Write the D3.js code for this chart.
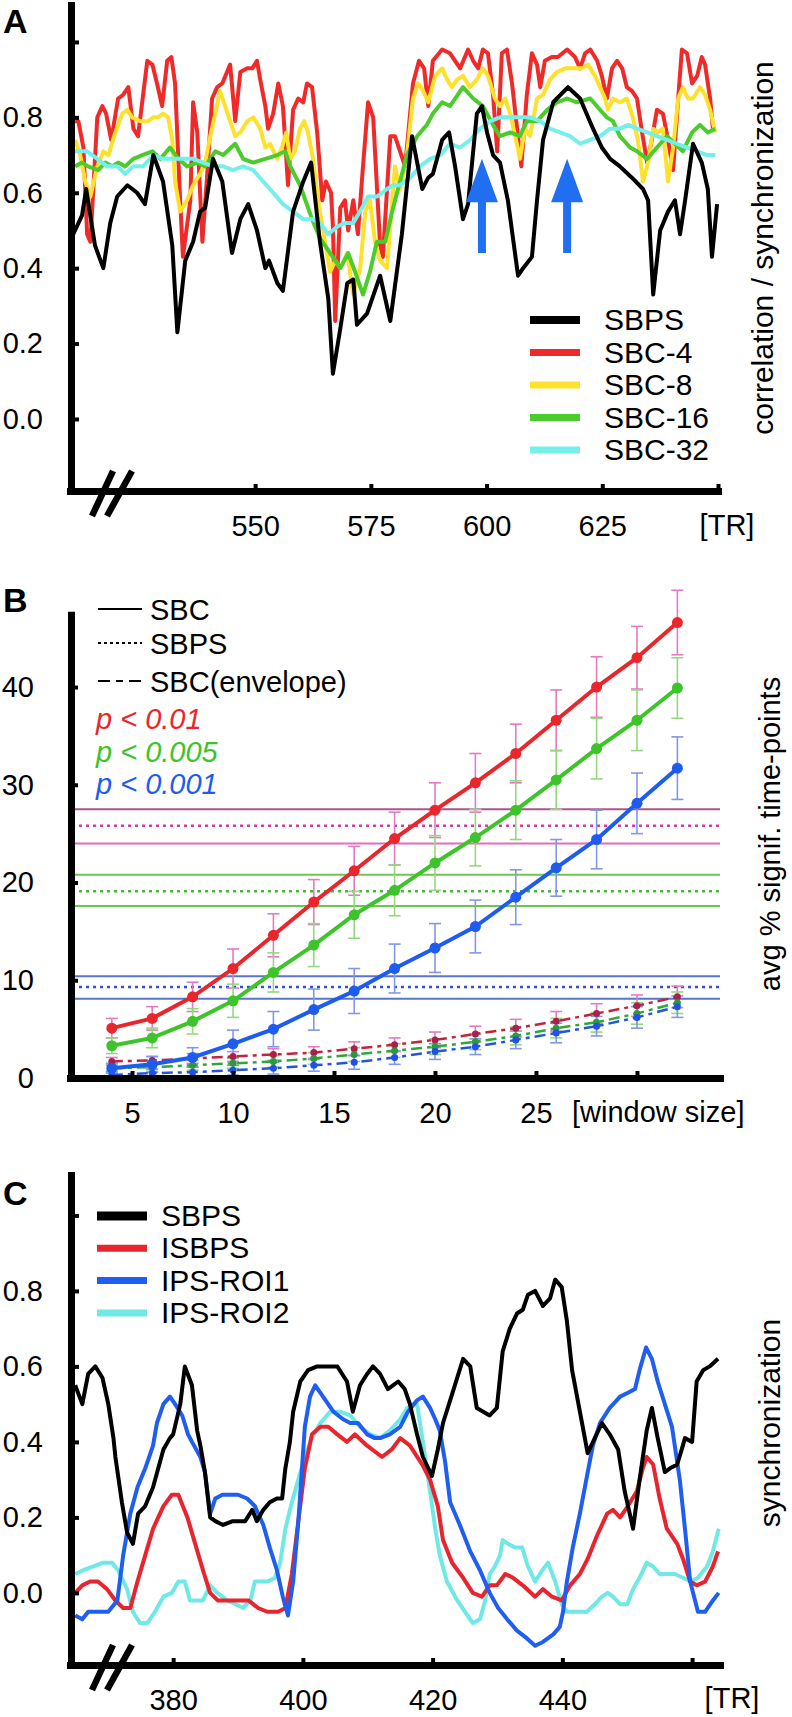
<!DOCTYPE html>
<html><head><meta charset="utf-8">
<script src="https://cdn.jsdelivr.net/npm/d3@7"></script>
<style>body{margin:0;background:#fff;} svg{display:block;}</style>
</head><body><svg id="c" width="792" height="1717"></svg>
<script>
// ================= DATA =================
// Panel A: [TR, value]
const aSBPS = [[510.7,0.49],[512.6,0.54],[513.5,0.61],[515.4,0.46],[517.2,0.40],[518.7,0.52],[520.2,0.59],[522.4,0.62],[524.5,0.60],[526.2,0.57],[528.0,0.70],[530.1,0.63],[532.1,0.46],[533.2,0.23],[534.9,0.42],[536.6,0.47],[538.1,0.55],[539.2,0.56],[540.9,0.69],[542.9,0.63],[545.0,0.44],[546.8,0.53],[548.5,0.57],[550.4,0.50],[552.2,0.40],[553.0,0.42],[554.8,0.36],[556.0,0.34],[558.2,0.55],[560.4,0.63],[562.1,0.68],[564.0,0.47],[565.8,0.32],[566.8,0.12],[568.4,0.24],[569.9,0.36],[571.2,0.37],[572.0,0.25],[574.2,0.28],[577.0,0.38],[579.2,0.26],[581.7,0.49],[583.9,0.75],[586.1,0.61],[587.4,0.64],[588.4,0.65],[590.4,0.74],[591.9,0.76],[593.2,0.67],[594.9,0.53],[596.0,0.57],[597.9,0.81],[599.0,0.83],[600.1,0.76],[601.4,0.70],[602.9,0.68],[604.6,0.58],[606.8,0.38],[607.9,0.40],[609.8,0.43],[610.9,0.58],[612.2,0.74],[614.4,0.84],[617.6,0.88],[620.2,0.85],[623.0,0.77],[624.9,0.72],[626.7,0.69],[628.8,0.67],[631.4,0.64],[633.8,0.61],[634.9,0.58],[636.0,0.33],[637.5,0.50],[639.2,0.55],[640.7,0.58],[641.8,0.49],[642.9,0.58],[644.6,0.73],[646.5,0.68],[647.8,0.61],[648.7,0.43],[649.8,0.57]];
const aSBC4 = [[511.1,0.79],[511.8,0.79],[512.9,0.72],[513.7,0.49],[514.4,0.47],[515.9,0.80],[517.0,0.83],[517.8,0.81],[518.9,0.74],[520.4,0.85],[521.5,0.86],[522.6,0.88],[523.7,0.77],[524.7,0.75],[526.7,0.95],[527.8,0.94],[528.8,0.89],[529.9,0.83],[531.0,0.95],[531.9,0.96],[532.7,0.89],[533.8,0.58],[534.4,0.43],[536.0,0.58],[536.6,0.84],[537.5,0.76],[538.6,0.47],[539.6,0.64],[540.7,0.85],[541.8,0.88],[542.9,0.89],[544.6,0.94],[545.7,0.79],[546.8,0.92],[548.3,0.93],[549.4,0.93],[550.4,0.95],[551.1,0.90],[552.2,0.83],[552.8,0.77],[553.9,0.81],[555.0,0.89],[556.0,0.83],[557.1,0.62],[558.2,0.82],[559.3,0.85],[560.4,0.84],[561.2,0.89],[562.3,0.88],[563.4,0.76],[564.5,0.58],[565.3,0.63],[566.4,0.60],[566.8,0.51],[567.3,0.26],[568.4,0.56],[569.4,0.58],[570.1,0.50],[571.2,0.58],[572.2,0.49],[573.3,0.67],[574.4,0.84],[575.5,0.80],[577.0,0.46],[577.6,0.43],[579.2,0.75],[580.2,0.75],[582.4,0.67],[584.1,0.89],[585.4,0.95],[586.5,0.93],[587.4,0.83],[588.4,0.95],[590.4,0.98],[592.1,0.97],[594.3,0.93],[596.0,0.98],[597.1,0.95],[598.2,0.93],[599.2,0.98],[600.3,0.97],[601.4,0.86],[602.3,0.71],[603.3,0.97],[604.4,0.98],[605.5,0.89],[606.6,0.77],[607.5,0.67],[608.7,0.86],[609.8,0.97],[610.9,0.94],[611.6,0.88],[612.6,0.95],[614.1,0.96],[615.4,0.96],[617.4,0.98],[619.1,0.96],[620.2,0.93],[621.3,0.97],[622.4,0.98],[623.9,0.95],[624.9,0.91],[626.0,0.85],[627.1,0.93],[628.2,0.95],[629.3,0.93],[630.3,0.88],[631.4,0.87],[632.5,0.85],[633.6,0.76],[634.7,0.68],[635.7,0.74],[636.8,0.82],[638.1,0.81],[639.2,0.74],[640.3,0.66],[641.4,0.85],[642.2,0.98],[643.3,0.97],[644.4,0.89],[645.5,0.91],[646.5,0.96],[647.2,0.94],[648.3,0.85],[648.9,0.77]];
const aSBC8 = [[511.1,0.74],[512.2,0.70],[513.3,0.63],[514.4,0.59],[515.9,0.67],[517.2,0.71],[518.3,0.70],[519.8,0.76],[521.3,0.81],[522.4,0.82],[523.4,0.80],[525.2,0.79],[526.9,0.79],[528.0,0.80],[529.0,0.80],[530.1,0.81],[531.2,0.80],[532.1,0.74],[532.7,0.63],[533.8,0.55],[535.3,0.58],[536.6,0.62],[538.1,0.65],[539.2,0.68],[540.3,0.75],[541.4,0.81],[542.4,0.87],[543.5,0.83],[544.6,0.79],[545.7,0.75],[546.8,0.76],[548.3,0.79],[549.6,0.80],[551.1,0.77],[552.2,0.72],[553.2,0.73],[554.8,0.69],[555.8,0.72],[556.7,0.76],[557.6,0.69],[558.6,0.71],[559.7,0.77],[560.6,0.79],[561.4,0.76],[562.5,0.69],[563.6,0.58],[565.1,0.47],[566.2,0.39],[567.3,0.42],[568.4,0.40],[569.9,0.44],[571.2,0.33],[572.7,0.40],[573.8,0.55],[574.8,0.58],[575.9,0.47],[577.0,0.42],[578.5,0.40],[580.2,0.67],[581.3,0.61],[582.8,0.70],[584.1,0.85],[585.2,0.89],[586.3,0.87],[587.4,0.84],[588.9,0.91],[590.4,0.93],[591.5,0.90],[592.5,0.88],[593.6,0.90],[594.9,0.91],[596.4,0.88],[597.9,0.90],[599.2,0.93],[600.3,0.91],[601.8,0.85],[602.9,0.83],[604.0,0.85],[605.1,0.81],[606.2,0.75],[607.2,0.69],[608.3,0.77],[609.4,0.75],[610.9,0.85],[612.2,0.86],[613.7,0.90],[615.2,0.92],[617.0,0.93],[618.7,0.93],[620.6,0.93],[621.9,0.94],[623.4,0.91],[624.5,0.88],[625.6,0.85],[626.2,0.82],[627.3,0.85],[628.8,0.84],[630.3,0.85],[631.6,0.80],[632.7,0.74],[633.8,0.63],[634.9,0.68],[636.0,0.77],[637.0,0.76],[638.1,0.77],[639.2,0.63],[640.3,0.72],[641.4,0.85],[642.4,0.88],[643.5,0.85],[644.6,0.85],[646.1,0.88],[647.2,0.86],[648.3,0.82],[649.4,0.76]];
const aSBC16 = [[511.1,0.67],[512.6,0.68],[513.9,0.67],[516.1,0.66],[517.6,0.68],[519.1,0.67],[520.4,0.68],[521.9,0.67],[523.7,0.69],[525.6,0.70],[527.8,0.71],[529.5,0.69],[531.6,0.72],[533.4,0.69],[535.3,0.67],[537.5,0.68],[539.2,0.67],[541.4,0.71],[543.1,0.70],[545.7,0.73],[547.4,0.69],[549.6,0.68],[552.2,0.69],[554.8,0.70],[556.5,0.71],[557.6,0.67],[559.7,0.62],[562.3,0.53],[564.0,0.48],[566.2,0.44],[568.4,0.40],[570.1,0.44],[571.6,0.39],[573.3,0.33],[574.8,0.39],[576.3,0.47],[578.1,0.47],[579.6,0.55],[581.3,0.63],[582.8,0.70],[585.0,0.75],[587.1,0.78],[588.4,0.81],[590.4,0.84],[592.1,0.83],[594.9,0.88],[597.1,0.85],[599.2,0.83],[601.4,0.78],[602.9,0.75],[605.1,0.76],[607.2,0.75],[608.7,0.79],[610.9,0.79],[613.1,0.82],[615.2,0.84],[617.4,0.85],[619.5,0.84],[622.4,0.85],[624.5,0.82],[626.0,0.80],[627.3,0.79],[628.8,0.75],[631.0,0.72],[632.5,0.71],[634.7,0.69],[636.8,0.72],[639.0,0.75],[640.7,0.73],[642.4,0.71],[644.4,0.76],[646.1,0.78],[647.8,0.76],[649.4,0.77]];
const aSBC32 = [[511.1,0.71],[513.7,0.71],[515.9,0.69],[518.0,0.67],[520.2,0.67],[521.9,0.65],[523.7,0.67],[525.8,0.67],[528.0,0.70],[530.1,0.69],[532.3,0.69],[534.4,0.69],[536.6,0.69],[538.8,0.68],[540.9,0.67],[543.1,0.67],[545.2,0.66],[547.4,0.67],[549.6,0.66],[551.7,0.63],[553.9,0.60],[556.0,0.57],[558.2,0.55],[560.4,0.53],[562.3,0.53],[564.0,0.52],[565.8,0.49],[567.7,0.51],[569.4,0.52],[571.2,0.52],[573.1,0.56],[574.4,0.59],[576.3,0.59],[578.5,0.61],[579.8,0.62],[581.3,0.62],[583.5,0.64],[585.6,0.67],[587.8,0.69],[590.0,0.70],[592.1,0.73],[594.3,0.72],[596.4,0.74],[598.6,0.77],[600.8,0.79],[602.9,0.80],[605.1,0.80],[607.2,0.80],[609.4,0.80],[611.6,0.79],[613.7,0.77],[615.9,0.76],[618.0,0.75],[620.2,0.73],[622.4,0.74],[624.5,0.75],[626.7,0.77],[628.8,0.77],[630.6,0.78],[632.5,0.77],[634.7,0.76],[636.8,0.75],[639.0,0.74],[641.1,0.73],[643.3,0.72],[645.5,0.71],[647.6,0.70],[649.4,0.70]];
const aYTicks = [0, 0.2, 0.4, 0.6, 0.8, 1.0];
const aYLabels = ['0.0','0.2','0.4','0.6','0.8',''];
const aXTicks = [550, 575, 600, 625, 650];
const aXLabels = ['550','575','600','625',''];
const aLegend = ['SBPS','SBC-4','SBC-8','SBC-16','SBC-32'];
const aArrowTR = [599.0, 617.4];
const aArrowVals = [0.69, 0.575, 0.44]; // tip, head base, tail

// Panel B
const bWindows = [4,6,8,10,12,14,16,18,20,22,24,26,28,30,32];
const bSBC_p01  = [5.1,6.1,8.3,11.2,14.6,18.0,21.2,24.5,27.4,30.2,33.2,36.6,40.0,43.0,46.6];
const bSBC_p005 = [3.3,4.1,5.8,7.9,10.8,13.6,16.7,19.2,22.0,24.6,27.4,30.5,33.7,36.6,39.9];
const bSBC_p001 = [1.0,1.4,2.1,3.5,5.0,7.0,8.9,11.2,13.3,15.5,18.5,21.5,24.4,28.1,31.7];
const bErr_p01  = [1.0,1.2,1.5,2.0,2.2,2.3,2.5,2.7,2.8,3.0,3.0,3.1,3.1,3.2,3.3];
const bErr_p005 = [0.8,1.0,1.3,1.7,2.0,2.2,2.4,2.6,2.8,2.9,3.0,3.0,3.1,3.1,3.1];
const bErr_p001 = [0.5,0.8,1.0,1.4,1.8,2.1,2.3,2.5,2.5,2.7,2.8,2.9,3.0,3.1,3.2];
const bEnv_p01  = [1.7,1.8,2.0,2.2,2.4,2.6,3.0,3.4,3.9,4.5,5.1,5.8,6.6,7.4,8.3];
const bEnv_p005 = [1.0,1.1,1.3,1.5,1.7,2.0,2.4,2.8,3.2,3.7,4.3,5.1,5.7,6.6,7.7];
const bEnv_p001 = [0.3,0.5,0.6,0.8,1.0,1.3,1.6,2.1,2.7,3.2,3.9,4.6,5.3,6.2,7.3];
const bEnvErr   = [0.4,0.4,0.5,0.5,0.6,0.6,0.7,0.7,0.8,0.8,0.9,1.0,1.0,1.1,1.1];
const bSBPS_p01  = [24.0, 25.8, 27.5]; // low, mean, high
const bSBPS_p005 = [17.6, 19.1, 20.8];
const bSBPS_p001 = [8.1, 9.3, 10.4];
const bYTicks = [0,10,20,30,40];
const bXTicks = [5,10,15,20,25,30];
const bXLabels = ['5','10','15','20','25',''];
const bLegend = ['SBC','SBPS','SBC(envelope)'];
const bPLabels = ['p < 0.01','p < 0.005','p < 0.001'];

// Panel C: [TR, value]
const cSBPS = [[364.9,0.55],[366.0,0.50],[366.9,0.58],[368.0,0.60],[369.1,0.57],[370.0,0.50],[370.8,0.41],[371.1,0.36],[372.1,0.24],[372.9,0.16],[373.8,0.13],[374.6,0.21],[375.7,0.23],[376.9,0.28],[378.5,0.38],[379.5,0.41],[380.0,0.42],[381.1,0.50],[381.8,0.60],[382.9,0.55],[383.7,0.43],[384.2,0.39],[384.9,0.32],[385.7,0.20],[386.5,0.19],[387.7,0.18],[389.2,0.19],[391.1,0.19],[392.2,0.22],[392.9,0.19],[393.9,0.22],[394.9,0.24],[396.0,0.25],[396.8,0.25],[397.3,0.33],[398.0,0.40],[398.5,0.48],[399.6,0.56],[400.8,0.59],[402.2,0.60],[403.9,0.60],[405.3,0.60],[406.8,0.56],[407.7,0.48],[408.8,0.55],[409.9,0.58],[410.8,0.60],[411.9,0.58],[413.1,0.54],[414.7,0.56],[415.7,0.54],[416.5,0.50],[417.6,0.42],[418.5,0.36],[419.9,0.31],[420.8,0.38],[421.6,0.45],[422.7,0.51],[423.8,0.57],[424.7,0.62],[425.8,0.60],[426.8,0.49],[427.8,0.48],[428.8,0.47],[429.9,0.49],[430.8,0.64],[431.9,0.70],[433.0,0.74],[433.9,0.75],[434.7,0.79],[435.8,0.80],[437.0,0.76],[438.1,0.78],[438.9,0.83],[439.9,0.81],[440.7,0.72],[441.5,0.59],[442.7,0.48],[443.9,0.37],[445.0,0.41],[446.1,0.45],[447.3,0.42],[448.6,0.38],[449.6,0.27],[450.9,0.17],[451.9,0.30],[453.0,0.43],[453.8,0.49],[454.7,0.41],[455.8,0.32],[456.6,0.33],[457.7,0.34],[458.4,0.38],[458.9,0.41],[460.0,0.40],[460.7,0.56],[461.7,0.59],[462.7,0.60],[464.0,0.62]];
const cISBPS = [[364.9,0.00],[366.0,0.02],[367.2,0.03],[368.4,0.03],[369.8,0.01],[371.1,-0.02],[372.3,-0.04],[373.4,-0.04],[374.5,0.03],[375.7,0.10],[376.9,0.17],[378.5,0.23],[379.8,0.26],[380.8,0.26],[382.2,0.20],[383.4,0.13],[384.6,0.06],[385.7,0.00],[386.9,-0.02],[388.5,-0.02],[390.0,-0.02],[391.6,-0.02],[393.1,-0.04],[394.5,-0.05],[396.2,-0.05],[397.3,-0.04],[398.3,0.05],[399.3,0.19],[400.3,0.33],[401.4,0.42],[402.7,0.44],[403.9,0.44],[405.3,0.42],[406.8,0.40],[408.0,0.42],[409.9,0.39],[412.2,0.36],[413.7,0.38],[415.0,0.41],[416.5,0.39],[418.4,0.34],[419.6,0.30],[420.8,0.23],[421.6,0.14],[423.0,0.08],[424.7,0.04],[426.2,0.00],[427.6,-0.01],[428.8,0.02],[429.9,0.02],[431.2,0.05],[432.4,0.04],[433.9,0.02],[435.8,-0.01],[437.0,0.01],[438.4,-0.01],[439.9,-0.02],[441.2,0.02],[442.7,0.05],[443.9,0.09],[445.3,0.15],[446.9,0.21],[447.8,0.22],[448.9,0.20],[450.1,0.23],[451.5,0.27],[452.4,0.33],[453.0,0.36],[454.0,0.34],[455.0,0.25],[456.1,0.17],[457.7,0.13],[458.6,0.09],[459.7,0.03],[460.7,0.02],[462.0,0.03],[463.2,0.07],[464.0,0.11]];
const cROI1 = [[364.9,-0.06],[366.0,-0.07],[366.9,-0.05],[368.4,-0.05],[370.0,-0.05],[371.4,-0.02],[372.3,0.10],[373.4,0.21],[374.5,0.28],[375.7,0.33],[376.9,0.39],[377.5,0.45],[378.5,0.50],[379.5,0.52],[380.3,0.50],[381.4,0.47],[382.3,0.42],[382.9,0.40],[384.2,0.36],[384.9,0.32],[385.7,0.21],[386.5,0.25],[387.6,0.26],[388.8,0.26],[390.0,0.26],[391.4,0.25],[392.6,0.23],[393.9,0.18],[394.9,0.12],[396.0,0.06],[396.9,-0.01],[397.7,-0.06],[398.5,0.03],[399.3,0.19],[399.9,0.34],[400.3,0.44],[401.1,0.52],[401.9,0.55],[403.1,0.52],[404.7,0.48],[406.2,0.46],[407.3,0.45],[408.5,0.45],[409.9,0.42],[411.1,0.41],[411.9,0.41],[413.4,0.42],[415.0,0.44],[416.2,0.48],[417.6,0.51],[418.5,0.52],[419.6,0.49],[420.4,0.46],[421.1,0.43],[421.9,0.35],[422.7,0.24],[424.2,0.18],[425.8,0.11],[427.3,0.06],[428.8,0.00],[430.1,-0.04],[431.5,-0.07],[433.0,-0.10],[434.5,-0.12],[435.8,-0.14],[437.0,-0.13],[438.6,-0.11],[439.6,-0.09],[440.1,-0.05],[440.7,0.03],[441.6,0.12],[442.7,0.21],[443.8,0.31],[444.7,0.39],[445.8,0.45],[447.3,0.49],[448.9,0.52],[450.1,0.53],[451.2,0.54],[451.9,0.59],[452.9,0.65],[453.8,0.62],[454.7,0.56],[455.8,0.50],[456.9,0.44],[458.1,0.30],[458.9,0.17],[459.7,0.03],[460.9,-0.05],[462.0,-0.05],[463.2,-0.02],[464.1,0.00]];
const cROI2 = [[364.9,0.05],[366.1,0.06],[367.7,0.07],[369.2,0.08],[370.6,0.08],[371.5,0.06],[372.9,0.01],[373.8,-0.05],[374.9,-0.08],[376.0,-0.08],[377.2,-0.05],[378.5,-0.01],[379.8,0.00],[380.8,0.03],[381.8,0.03],[382.6,-0.02],[383.7,-0.02],[384.6,-0.02],[385.7,0.02],[386.8,0.00],[388.3,-0.02],[389.6,-0.03],[390.8,-0.04],[391.9,-0.02],[392.6,0.03],[393.7,0.03],[394.6,0.03],[395.7,0.04],[396.5,0.08],[397.3,0.17],[398.3,0.24],[399.3,0.30],[400.3,0.36],[401.4,0.41],[402.7,0.45],[404.2,0.48],[405.7,0.48],[407.3,0.47],[408.8,0.44],[410.4,0.42],[411.9,0.41],[413.4,0.43],[415.0,0.46],[416.1,0.49],[417.0,0.50],[417.6,0.50],[418.5,0.40],[419.6,0.27],[420.4,0.17],[421.1,0.10],[422.2,0.03],[423.8,-0.02],[425.0,-0.05],[426.2,-0.08],[427.3,-0.07],[428.1,-0.02],[428.8,0.05],[429.6,0.07],[430.4,0.10],[430.8,0.14],[431.6,0.13],[432.7,0.12],[433.8,0.12],[434.7,0.07],[435.8,0.03],[436.9,0.06],[437.8,0.08],[438.9,0.03],[439.9,-0.03],[440.7,-0.05],[442.2,-0.05],[443.8,-0.05],[445.0,-0.03],[446.1,-0.01],[447.0,0.00],[447.8,-0.01],[448.9,-0.03],[450.0,-0.03],[450.9,0.01],[451.9,0.04],[453.0,0.08],[454.0,0.07],[455.0,0.05],[456.1,0.05],[457.3,0.05],[458.6,0.04],[459.7,0.03],[460.9,0.04],[462.3,0.07],[463.2,0.11],[464.1,0.17]];
const cYTicks = [0, 0.2, 0.4, 0.6, 0.8, 1.0];
const cYLabels = ['0.0','0.2','0.4','0.6','0.8',''];
const cXTicks = [380, 400, 420, 440, 460];
const cXLabels = ['380','400','420','440',''];
const cLegend = ['SBPS','ISBPS','IPS-ROI1','IPS-ROI2'];

// ================= DRAWING =================
const FONT = '"Liberation Sans", Arial, Helvetica, sans-serif';
const TICKFS = 29;
const svg = d3.select('#c');
svg.append('rect').attr('width',792).attr('height',1717).attr('fill','#fff');

function styleAxis(g, fs){
  g.attr('font-family', FONT).attr('font-size', fs);
  g.select('.domain').attr('stroke','#000').attr('stroke-width',7).attr('stroke-linecap','square');
  g.selectAll('.tick line').attr('stroke','#000').attr('stroke-width',4);
  g.selectAll('.tick text').attr('fill','#000');
}
function breakMarks(y){
  const g = svg.append('g');
  [[92,113],[107,132]].forEach(p=>{
    g.append('line').attr('x1',p[0]).attr('y1',y+25).attr('x2',p[1]).attr('y2',y-20)
      .attr('stroke','#000').attr('stroke-width',6.5);
  });
}
function panelLabel(t,y){
  svg.append('text').attr('x',3).attr('y',y).text(t)
    .attr('font-family',FONT).attr('font-weight','bold').attr('font-size',34).attr('fill','#000');
}
function vLabel(t,x,y,fs){
  svg.append('text').attr('transform',`translate(${x},${y}) rotate(-90)`).attr('text-anchor','middle')
    .attr('font-family',FONT).attr('font-size',fs).attr('fill','#000').text(t);
}

// ---------- Panel A ----------
const xA = d3.scaleLinear().domain([510,650]).range([70,718]);
const yA = d3.scaleLinear().domain([-0.191,1.098]).range([491,5]);
const lineA = d3.line().x(d=>xA(d[0])).y(d=>yA(d[1]));
const colA = {SBPS:'#000000','SBC-4':'#f02a28','SBC-8':'#fde12c','SBC-16':'#4ccb2c','SBC-32':'#74efec'};
const dataA = {SBPS:aSBPS,'SBC-4':aSBC4,'SBC-8':aSBC8,'SBC-16':aSBC16,'SBC-32':aSBC32};
['SBC-4','SBC-8','SBC-16','SBC-32','SBPS'].forEach(k=>{
  svg.append('path').datum(dataA[k]).attr('d',lineA).attr('fill','none')
    .attr('stroke',colA[k]).attr('stroke-width',4).attr('stroke-linejoin','round');
});
aArrowTR.forEach(tr=>{
  const x = xA(tr), yt = yA(aArrowVals[0]), yh = yA(aArrowVals[1]), yb = yA(aArrowVals[2]);
  svg.append('path').attr('fill','#1f6ff0')
    .attr('d',`M${x},${yt}L${x+16},${yh}L${x+4},${yh}L${x+4},${yb}L${x-4},${yb}L${x-4},${yh}L${x-16},${yh}Z`);
});
const gAy = svg.append('g').attr('transform','translate(71,0)')
  .call(d3.axisLeft(yA).tickValues(aYTicks).tickSize(-8).tickSizeOuter(0).tickPadding(28)
  .tickFormat((d,i)=>aYLabels[i]));
styleAxis(gAy,TICKFS);
const gAx = svg.append('g').attr('transform','translate(0,491)')
  .call(d3.axisBottom(xA).tickValues(aXTicks).tickSize(-7).tickSizeOuter(0).tickPadding(24)
  .tickFormat((d,i)=>aXLabels[i]));
styleAxis(gAx,TICKFS);
svg.append('text').attr('x',727).attr('y',535).attr('text-anchor','middle')
  .attr('font-family',FONT).attr('font-size',TICKFS).text('[TR]');
breakMarks(491);
aLegend.forEach((k,i)=>{
  const y = 320 + i*32.5;
  svg.append('line').attr('x1',530).attr('x2',580).attr('y1',y).attr('y2',y)
    .attr('stroke',colA[k]).attr('stroke-width',k==='SBPS'?8:7);
  svg.append('text').attr('x',604).attr('y',y+10).attr('font-family',FONT).attr('font-size',30).text(k);
});
vLabel('correlation / synchronization',773,248,30);
panelLabel('A',33);

// ---------- Panel B ----------
const xB = d3.scaleLinear().domain([1.93,34.11]).range([70,720]);
const yB = d3.scaleLinear().domain([0,47.4]).range([1078,614.7]);
const bands = [
  {v:bSBPS_p01, c:['#e66cba','#d43ca4','#a9568c']},
  {v:bSBPS_p005, c:['#6cc84c','#4cb43c','#6cc84c']},
  {v:bSBPS_p001, c:['#5a74cc','#2a52e6','#5a74cc']}
];
bands.forEach(b=>{
  b.v.forEach((v,i)=>{
    const l = svg.append('line').attr('x1',72).attr('x2',720).attr('y1',yB(v)).attr('y2',yB(v))
      .attr('stroke',b.c[i]).attr('stroke-width',i===1?2.5:2);
    if(i===1) l.attr('stroke-dasharray','3,4');
  });
});
const groupsB = [
  {m:bSBC_p01,e:bErr_p01,env:bEnv_p01,c:'#e8262c',ec:'#e37ac2',envc:'#c0243e',envd:'#a8204e'},
  {m:bSBC_p005,e:bErr_p005,env:bEnv_p005,c:'#3cc42a',ec:'#93d87e',envc:'#2fa83a',envd:'#2a9a3a'},
  {m:bSBC_p001,e:bErr_p001,env:bEnv_p001,c:'#1e5cf0',ec:'#8398e4',envc:'#2455e0',envd:'#1f50e8'}
];
function errBars(vals, errs, col){
  bWindows.forEach((w,i)=>{
    const x = xB(w), y1 = yB(vals[i]-errs[i]), y2 = yB(vals[i]+errs[i]);
    const g = svg.append('g').attr('stroke',col).attr('stroke-width',1.6);
    g.append('line').attr('x1',x).attr('x2',x).attr('y1',y1).attr('y2',y2);
    g.append('line').attr('x1',x-6).attr('x2',x+6).attr('y1',y1).attr('y2',y1);
    g.append('line').attr('x1',x-6).attr('x2',x+6).attr('y1',y2).attr('y2',y2);
  });
}
const lineB = d3.line().x((d,i)=>xB(bWindows[i])).y(d=>yB(d));
groupsB.forEach(g=>{ errBars(g.env, bEnvErr, g.ec); errBars(g.m, g.e, g.ec); });
groupsB.forEach(g=>{
  svg.append('path').datum(g.env).attr('d',lineB).attr('fill','none').attr('stroke',g.envc)
    .attr('stroke-width',2.5).attr('stroke-dasharray','11,5,4,5');
  g.env.forEach((v,i)=>svg.append('circle').attr('cx',xB(bWindows[i])).attr('cy',yB(v)).attr('r',3.5).attr('fill',g.envd));
});
groupsB.forEach(g=>{
  svg.append('path').datum(g.m).attr('d',lineB).attr('fill','none').attr('stroke',g.c).attr('stroke-width',4);
  g.m.forEach((v,i)=>svg.append('circle').attr('cx',xB(bWindows[i])).attr('cy',yB(v)).attr('r',5.5).attr('fill',g.c));
});
const gBy = svg.append('g').attr('transform','translate(71,0)')
  .call(d3.axisLeft(yB).tickValues(bYTicks).tickSize(-7).tickSizeOuter(0).tickPadding(37));
styleAxis(gBy,TICKFS);
const gBx = svg.append('g').attr('transform','translate(0,1078)')
  .call(d3.axisBottom(xB).tickValues(bXTicks).tickSize(-7).tickSizeOuter(0).tickPadding(24)
  .tickFormat((d,i)=>bXLabels[i]));
styleAxis(gBx,TICKFS);
svg.append('text').attr('x',572).attr('y',1122).attr('font-family',FONT).attr('font-size',TICKFS).text('[window size]');
const bLegY = [609,643,681];
const bDash = [null,'3,3','12,6,7,6'];
bLegend.forEach((t,i)=>{
  const l = svg.append('line').attr('x1',98).attr('x2',142).attr('y1',bLegY[i]).attr('y2',bLegY[i])
    .attr('stroke','#000').attr('stroke-width',2.2);
  if(bDash[i]) l.attr('stroke-dasharray',bDash[i]);
  svg.append('text').attr('x',150).attr('y',bLegY[i]+11).attr('font-family',FONT).attr('font-size',29).text(t);
});
const pCols = ['#e8262c','#3cc42a','#1e5cf0'];
bPLabels.forEach((t,i)=>{
  svg.append('text').attr('x',96).attr('y',729+i*32.5).attr('font-family',FONT).attr('font-size',29)
    .attr('font-style','italic').attr('fill',pCols[i]).text(t);
});
vLabel('avg % signif. time-points',780,834,29);
panelLabel('B',612);

// ---------- Panel C ----------
const xC = d3.scaleLinear().domain([364.1,464.3]).range([70,720]);
const yC = d3.scaleLinear().domain([-0.191,1.107]).range([1665,1175]);
const lineC = d3.line().x(d=>xC(d[0])).y(d=>yC(d[1]));
const colC = {'SBPS':'#000000','ISBPS':'#e8242e','IPS-ROI1':'#1f5ef0','IPS-ROI2':'#6fe8e6'};
const dataC = {'SBPS':cSBPS,'ISBPS':cISBPS,'IPS-ROI1':cROI1,'IPS-ROI2':cROI2};
['IPS-ROI2','ISBPS','IPS-ROI1','SBPS'].forEach(k=>{
  svg.append('path').datum(dataC[k]).attr('d',lineC).attr('fill','none')
    .attr('stroke',colC[k]).attr('stroke-width',4).attr('stroke-linejoin','round');
});
const gCy = svg.append('g').attr('transform','translate(71,0)')
  .call(d3.axisLeft(yC).tickValues(cYTicks).tickSize(-8).tickSizeOuter(0).tickPadding(28)
  .tickFormat((d,i)=>cYLabels[i]));
styleAxis(gCy,TICKFS);
const gCx = svg.append('g').attr('transform','translate(0,1665)')
  .call(d3.axisBottom(xC).tickValues(cXTicks).tickSize(-7).tickSizeOuter(0).tickPadding(24)
  .tickFormat((d,i)=>cXLabels[i]));
styleAxis(gCx,TICKFS);
svg.append('text').attr('x',732).attr('y',1708).attr('text-anchor','middle')
  .attr('font-family',FONT).attr('font-size',TICKFS).text('[TR]');
breakMarks(1665);
cLegend.forEach((k,i)=>{
  const y = 1216 + i*32.3;
  svg.append('line').attr('x1',97).attr('x2',147).attr('y1',y).attr('y2',y)
    .attr('stroke',colC[k]).attr('stroke-width',k==='SBPS'?9:7);
  svg.append('text').attr('x',161).attr('y',y+10).attr('font-family',FONT).attr('font-size',30).text(k);
});
vLabel('synchronization',780,1423,30);
panelLabel('C',1205);
</script></body></html>
